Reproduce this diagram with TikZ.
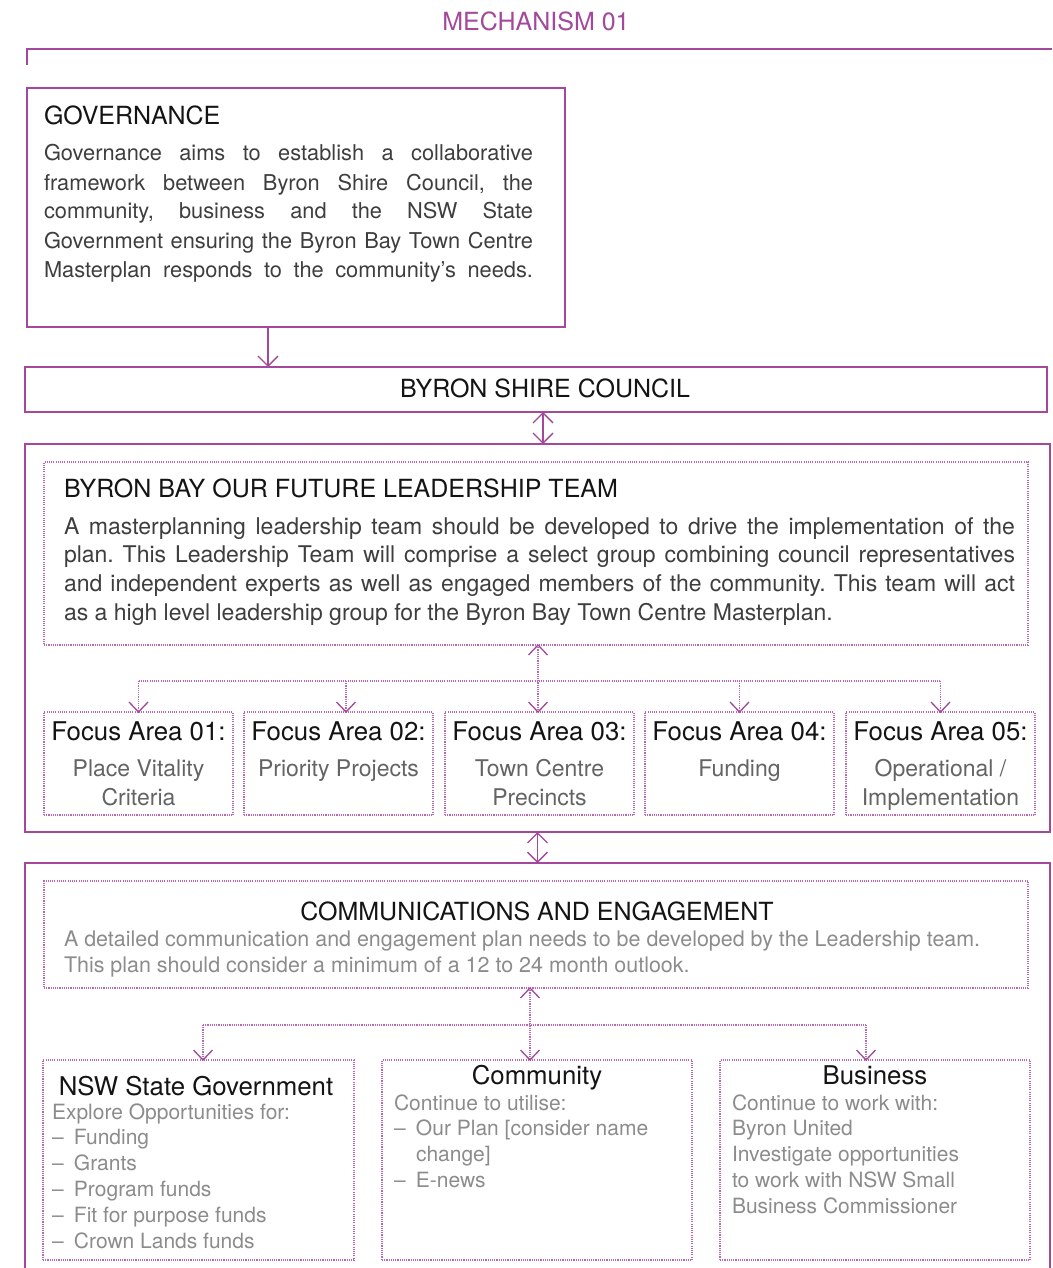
\documentclass[tikz,border=0pt]{standalone}
\usepackage{fontspec}
\setmainfont{TeX Gyre Heros}
\usetikzlibrary{arrows.meta}
\definecolor{mag}{RGB}{163,72,155}
\definecolor{magdot}{RGB}{185,105,180}
\definecolor{ttl}{RGB}{20,20,20}
\definecolor{bodygray}{RGB}{62,62,62}
\definecolor{subgray}{RGB}{100,100,100}
\definecolor{ltgray}{RGB}{140,140,140}
\frenchspacing
\newcommand\jline[2]{\makebox[#1][s]{#2}\par}
\newcommand\ttlfont{\fontsize{25}{29}\selectfont}
\newcommand\bigttlfont{\fontsize{25.8}{29}\selectfont}
\newcommand\govfont{\fontsize{21.8}{29}\selectfont}
\newcommand\leadfont{\fontsize{23}{28.7}\selectfont}
\newcommand\subfont{\fontsize{23}{29}\selectfont}
\newcommand\smfont{\fontsize{21}{25.8}\selectfont}
\newcommand\cmfont{\fontsize{21.45}{26}\selectfont}
\newcommand\dsh{\makebox[22pt][l]{–}}
\newcommand\vdown[1]{\draw[vtip] ([xshift=-9.5pt,yshift=10pt]#1) -- (#1) -- ([xshift=9.5pt,yshift=10pt]#1);}
\newcommand\vup[1]{\draw[vtip] ([xshift=-9.5pt,yshift=-10pt]#1) -- (#1) -- ([xshift=9.5pt,yshift=-10pt]#1);}
\begin{document}
\begin{tikzpicture}[x=1pt,y=-1pt,
  solidbox/.style={draw=mag, line width=1.5pt, anchor=north west, inner sep=0pt, outer sep=0pt},
  thinbox/.style={draw=mag, line width=1.2pt, anchor=north west, inner sep=0pt, outer sep=0pt},
  dotbox/.style={draw=magdot, line width=1.1pt, dash pattern=on 1.1pt off 1.1pt, anchor=north west, inner sep=0pt, outer sep=0pt},
  dotline/.style={draw=magdot, line width=1.1pt, dash pattern=on 1.1pt off 1.1pt},
  arr/.style={draw=mag, line width=1.3pt, -{Straight Barb[length=10pt,width=20pt]}},
  dbl/.style={draw=mag, line width=1.3pt, {Straight Barb[length=10pt,width=20pt]}-{Straight Barb[length=10pt,width=20pt]}},
  vtip/.style={draw=mag, line width=1.3pt},
  txt/.style={inner sep=0pt, outer sep=0pt},
  title/.style={txt, text=ttl, font=\ttlfont},
  bigtitle/.style={txt, text=ttl, font=\bigttlfont}
]
\useasboundingbox (0,0) rectangle (1052,1268);
\fill[white] (0,0) rectangle (1052,1268);

% header
\node[txt, anchor=base, text=mag, font=\ttlfont] (mech) at (536,31) {MECHANISM 01};
\draw[mag, line width=2.4pt] (27,65) |- (1052,49);

% governance
\node[thinbox, minimum width=538pt, minimum height=239pt] (gov) at (27,88) {};
\node[title, anchor=base west] (govt) at (44,125) {GOVERNANCE};
\node[txt, anchor=base west, text=bodygray] (govb) at (44,161) {\parbox[t]{489pt}{\govfont
\jline{489pt}{Governance aims to establish a collaborative}
\jline{489pt}{framework between Byron Shire Council, the}
\jline{489pt}{community, business and the NSW State}
\jline{489pt}{Government ensuring the Byron Bay Town Centre}
\jline{489pt}{Masterplan responds to the community’s needs.}}};

% byron shire council
\node[thinbox, minimum width=1022pt, minimum height=45pt] (bsc) at (25,367) {};
\node[title, anchor=base] (bsct) at (545,397.5) {BYRON SHIRE COUNCIL};

% leadership
\node[solidbox, minimum width=1025pt, minimum height=388pt] (lead) at (25,444) {};
\node[dotbox, minimum width=984pt, minimum height=183pt] (leadin) at (44,462) {};
\node[title, anchor=base west] (leadt) at (64,497.5) {BYRON BAY OUR FUTURE LEADERSHIP TEAM};
\node[txt, anchor=base west, text=bodygray] (leadb) at (64,534) {\parbox[t]{951pt}{\leadfont
\jline{951pt}{A masterplanning leadership team should be developed to drive the implementation of the}
\jline{951pt}{plan. This Leadership Team will comprise a select group combining council representatives}
\jline{951pt}{and independent experts as well as engaged members of the community. This team will act}
as a high level leadership group for the Byron Bay Town Centre Masterplan.}};

% focus areas
\foreach \i/\xx/\sub in {1/44/{Place Vitality\\Criteria},2/244/{Priority Projects},3/445/{Town Centre\\Precincts},4/645/{Funding},5/846/{Operational /\\Implementation}}{
  \node[dotbox, minimum width=189pt, minimum height=103pt] (f\i) at (\xx,712) {};
  \node[bigtitle, anchor=base] (f\i t) at (\xx+94.5,740) {Focus Area 0\i:};
  \node[txt, anchor=base, text=subgray] (f\i s) at (\xx+94.5,776) {\parbox[t]{189pt}{\centering\subfont \sub\par}};
}

% comms
\node[solidbox, minimum width=1025pt, minimum height=430pt] (comm) at (25,863) {};
\node[dotbox, minimum width=984pt, minimum height=107pt] (commsin) at (44,881) {};
\node[title, anchor=base] (commt) at (537,920) {COMMUNICATIONS AND ENGAGEMENT};
\node[txt, anchor=base west, text=ltgray] (commb) at (64,946) {\parbox[t]{960pt}{\cmfont
A detailed communication and engagement plan needs to be developed by the Leadership team.\\
This plan should consider a minimum of a 12 to 24 month outlook.}};

\node[dotbox, minimum width=311pt, minimum height=200pt] (cm1) at (43,1060) {};
\node[dotbox, minimum width=310pt, minimum height=200pt] (cm2) at (382,1060) {};
\node[dotbox, minimum width=310pt, minimum height=200pt] (cm3) at (720,1060) {};

\node[bigtitle, anchor=base] (cm1t) at (196,1095) {NSW State Government};
\node[txt, anchor=base west, text=ltgray] (cm1b) at (52,1119) {\parbox[t]{300pt}{\smfont
Explore Opportunities for:\\
\dsh Funding\\
\dsh Grants\\
\dsh Program funds\\
\dsh Fit for purpose funds\\
\dsh Crown Lands funds}};

\node[bigtitle, anchor=base] (cm2t) at (537,1084) {Community};
\node[txt, anchor=base west, text=ltgray] (cm2b) at (394,1110) {\parbox[t]{290pt}{\smfont
Continue to utilise:\\
\dsh Our Plan [consider name\\
\hspace*{22pt}change]\\
\dsh E-news}};

\node[bigtitle, anchor=base] (cm3t) at (875,1084) {Business};
\node[txt, anchor=base west, text=ltgray] (cm3b) at (732,1110) {\parbox[t]{290pt}{\smfont
Continue to work with:\\
Byron United\\
Investigate opportunities\\
to work with NSW Small\\
Business Commissioner}};

% solid connectors
\coordinate (ga) at ([xshift=241pt]gov.south west);
\draw[arr] (ga) -- (ga |- bsc.north);
\coordinate (ba) at ([xshift=518pt]bsc.south west);
\draw[dbl] (ba) -- (ba |- lead.north);
\draw[dbl] (lead.south) -- (lead.south |- comm.north);

% leadership -> focus areas (dotted)
\coordinate (f3top) at ([xshift=93pt]f3.north west);
\coordinate (f3up) at (f3top |- leadin.south);
\coordinate (f2top) at ([xshift=102pt]f2.north west);
\path (f3top) ++(0,-31) coordinate (lj);
\draw[dotline] (f3up) -- (f3top);
\draw[dotline] (f1.north |- lj) -- (f5.north |- lj);
\draw[dotline] (f1.north |- lj) -- (f1.north);
\draw[dotline] (f2top |- lj) -- (f2top);
\draw[dotline] (f4.north |- lj) -- (f4.north);
\draw[dotline] (f5.north |- lj) -- (f5.north);
\vup{f3up}
\vdown{f3top}
\vdown{f1.north}
\vdown{f2top}
\vdown{f4.north}
\vdown{f5.north}

% communications -> groups (dotted)
\coordinate (ctop) at ([xshift=148pt]cm2.north west);
\coordinate (cup) at (ctop |- commsin.south);
\path (ctop) ++(0,-35) coordinate (cj);
\coordinate (ntop) at ([xshift=160pt]cm1.north west);
\coordinate (btop) at ([xshift=146pt]cm3.north west);
\draw[dotline] (cup) -- (ctop);
\draw[dotline] (ntop |- cj) -- (btop |- cj);
\draw[dotline] (ntop |- cj) -- (ntop);
\draw[dotline] (btop |- cj) -- (btop);
\vup{cup}
\vdown{ctop}
\vdown{ntop}
\vdown{btop}
\end{tikzpicture}
\end{document}
